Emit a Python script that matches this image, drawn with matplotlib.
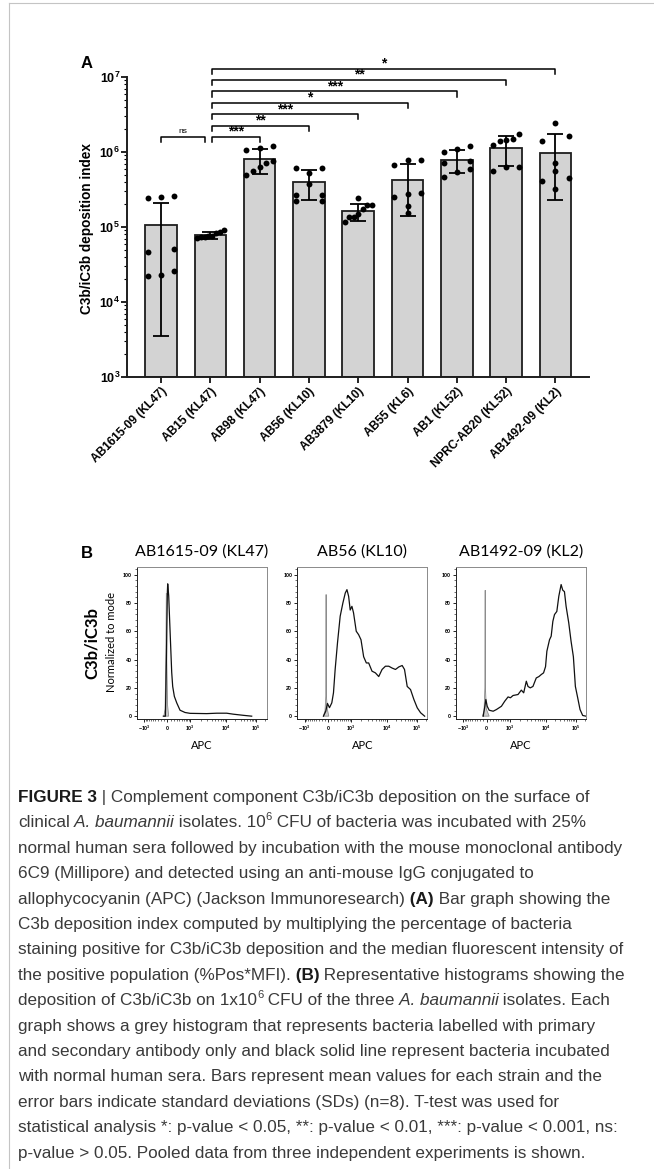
import numpy as np
import matplotlib
matplotlib.use('Agg')
import matplotlib.pyplot as plt
import matplotlib.transforms as mtransforms
from matplotlib.lines import Line2D
from matplotlib.ticker import FixedLocator, LogLocator, NullFormatter, AutoMinorLocator

plt.rcParams['font.family'] = ['Liberation Sans', 'DejaVu Sans']
plt.rcParams['mathtext.fontset'] = 'custom'
plt.rcParams['mathtext.rm'] = 'Liberation Sans'
plt.rcParams['mathtext.bf'] = 'Liberation Sans:bold'
plt.rcParams['mathtext.it'] = 'Liberation Sans:italic'

# ---------------- panel A data ----------------
strains = ['AB1615-09 (KL47)', 'AB15 (KL47)', 'AB98 (KL47)', 'AB56 (KL10)',
           'AB3879 (KL10)', 'AB55 (KL6)', 'AB1 (KL52)', 'NPRC-AB20 (KL52)',
           'AB1492-09 (KL2)']
means = [1.05e5, 7.8e4, 8.1e5, 4.0e5, 1.63e5, 4.2e5, 7.9e5, 1.13e6, 9.8e5]
sds = [1.015e5, 8.5e3, 3.0e5, 1.7e5, 4.2e4, 2.8e5, 2.7e5, 4.8e5, 7.5e5]
points = [
    [2.44e5, 2.6e5, 5.1e4, 4.7e4, 2.24e4, 2.6e4, 2.3e4, 2.5e5],
    [9.2e4, 8.6e4, 8.3e4, 7.6e4, 7.4e4, 7.3e4, 7.2e4, 7.5e4],
    [1.13e6, 1.21e6, 1.07e6, 7.1e5, 6.4e5, 7.5e5, 5.0e5, 5.5e5],
    [6.2e5, 6.2e5, 5.2e5, 3.74e5, 2.7e5, 2.7e5, 2.2e5, 2.2e5],
    [2.41e5, 1.96e5, 1.96e5, 1.74e5, 1.49e5, 1.35e5, 1.35e5, 1.15e5],
    [7.9e5, 7.9e5, 6.8e5, 2.84e5, 2.75e5, 2.54e5, 1.89e5, 1.52e5],
    [1.1e6, 1.19e6, 1.01e6, 7.66e5, 7.06e5, 5.93e5, 4.6e5, 5.36e5],
    [1.49e6, 1.45e6, 1.72e6, 1.39e6, 1.25e6, 5.5e5, 6.4e5, 6.25e5],
    [2.44e6, 1.65e6, 1.42e6, 7.06e5, 5.5e5, 4.5e5, 4.07e5, 3.2e5],
]
# significance brackets: (from, to, label)
sig_pairs = [(0, 1, 'ns'), (1, 2, '***'), (1, 3, '**'), (1, 4, '***'),
             (1, 5, '*'), (1, 6, '***'), (1, 7, '**'), (1, 8, '*')]

# ---------------- panel B data (APC value, % of mode) ----------------
hist_titles = ['AB1615-09 (KL47)', 'AB56 (KL10)', 'AB1492-09 (KL2)']

h1_x = [-124, -60, -30, 0, 10, 41, 61, 103, 135, 167, 222, 306, 435, 670, 975,
        2900, 5470, 10200, 17100, 36900, 70100]
h1_y = [0, 0, 40, 88, 93.5, 85, 73, 49, 31, 21, 14, 9.4, 4.2, 2.6, 2.0,
        1.8, 2.1, 2.1, 1.4, 0.6, 0]
h2_x = [-141, -68, -16, 46, 119, 173, 229, 313, 416, 534, 650, 742, 842, 945,
        1066, 1190, 1425, 1663, 1941, 2300, 2730, 3164, 3905, 4827, 5960, 7342,
        9063, 11460, 14820, 19200, 24860, 32170, 38530, 47400, 61230, 79300,
        102700, 132900, 181000]
h2_y = [0, 3.5, 9, 6, 9.4, 16.5, 33, 52, 70.6, 80, 87, 89.4, 84.7, 75, 77.6,
        73, 60, 57.6, 54, 42, 37.6, 37.6, 31.8, 30.6, 28, 33, 35.3, 35.3, 34,
        33, 34.8, 35.8, 33, 21, 18.8, 11.8, 5.9, 2.4, 0]
h3_x = [-107, -56, -25, 16, 77, 206, 322, 526, 693, 889, 1052, 1255, 1740, 2155,
        2505, 2960, 3290, 3800, 4495, 5535, 6550, 7560, 8750, 9900, 10950, 13420,
        15250, 17350, 19700, 23560, 27440, 32800, 37240, 42350, 48130, 58940,
        70460, 84270, 98280, 117400, 140500, 172100, 222000]
h3_y = [0, 7, 11.8, 7, 4.2, 3.5, 4.7, 7, 10.6, 13.6, 13, 14.6, 15.3, 18.4, 16.5,
        24.7, 21, 20, 21, 27, 28, 29.4, 30.6, 35, 45.9, 54, 56.5, 67, 71.8, 74,
        84.7, 93, 89, 88, 77.6, 66, 53, 42, 21, 13, 4.7, 0.5, 0]
g1_x = [-110, -70, -45, -32, -18, 5, 40]
g1_y = [0, 5, 45, 87, 40, 8, 0]
g2_x = [-141, -90, -65, -57, -50, -20, 25]
g2_y = [0, 4, 15, 86, 15, 5, 0]
g3_x = [-128, -80, -55, -45, -38, -10, 77]
g3_y = [0, 4, 20, 89, 20, 5, 0]

hist_black = [(h1_x, h1_y), (h2_x, h2_y), (h3_x, h3_y)]
hist_grey = [(g1_x, g1_y), (g2_x, g2_y), (g3_x, g3_y)]

# ---------------- figure ----------------
W, H = 654, 1169
fig = plt.figure(figsize=(W / 100, H / 100), dpi=100)


def fx(px):
    return px / W


def fy(py):
    return 1 - py / H


# page frame lines
fig.add_artist(Line2D([fx(9), fx(9)], [0, fy(3)], transform=fig.transFigure,
                      color='#c4c4c4', lw=0.8))
fig.add_artist(Line2D([fx(9), 1], [fy(3), fy(3)], transform=fig.transFigure,
                      color='#c4c4c4', lw=0.8))

# ---------------- panel A ----------------
axA = fig.add_axes([fx(127), fy(377), fx(589) - fx(127), fy(77) - fy(377)])
axA.set_yscale('log')
ymin, ymax = 1e3, 1e7
x = np.arange(len(strains))
means = np.array(means)
sds = np.array(sds)
axA.bar(x, means - ymin, bottom=ymin, width=0.64, color='#d3d3d3',
        edgecolor='#1e1e1e', linewidth=1.3, zorder=2)


def spread(vals, w=0.27, tol=0.075):
    lv = np.log10(vals)
    order = np.argsort(lv)
    offs = np.zeros(len(vals))
    groups, cur = [], [order[0]]
    for i in order[1:]:
        if lv[i] - lv[cur[-1]] < tol:
            cur.append(i)
        else:
            groups.append(cur)
            cur = [i]
    groups.append(cur)
    for g in groups:
        if len(g) > 1:
            offs[g] = np.linspace(-w, w, len(g))
    return offs


for i, vals in enumerate(points):
    offs = spread(vals)
    axA.scatter(i + offs, vals, s=18, color='black', zorder=4, linewidths=0)

axA.errorbar(x, means, yerr=[sds, sds], fmt='none', ecolor='black',
             elinewidth=1.3, capsize=6, capthick=1.3, zorder=5)

axA.set_xlim(-0.69, 8.68)
axA.set_ylim(ymin, ymax)
for s in ['top', 'right']:
    axA.spines[s].set_visible(False)
for s in ['left', 'bottom']:
    axA.spines[s].set_linewidth(1.4)
    axA.spines[s].set_color('#1e1e1e')

axA.yaxis.set_major_locator(FixedLocator([1e3, 1e4, 1e5, 1e6, 1e7]))
axA.set_yticklabels([r'$\mathbf{10^{%d}}$' % k for k in range(3, 8)])
axA.yaxis.set_minor_locator(LogLocator(base=10, subs=np.arange(2, 10)))
axA.yaxis.set_minor_formatter(NullFormatter())
axA.tick_params(axis='y', which='major', length=4, width=1.2, labelsize=9, pad=1)
axA.tick_params(axis='y', which='minor', length=2, width=0.8)
axA.set_xticks(x)
axA.set_xticklabels(strains, rotation=45, ha='right', rotation_mode='anchor',
                    fontweight='bold', fontsize=8.6)
axA.tick_params(axis='x', length=4, width=1.2, pad=2)

tr = mtransforms.blended_transform_factory(axA.transData, axA.transAxes)
level = 0
for a, b, lab in sig_pairs:
    if lab == 'ns':
        x0, x1, yl = a, b - 0.1, 0.8
    else:
        x0, x1, yl = a + 0.04, b, 0.8 + 0.038 * level
        level += 1
    axA.plot([x0, x0, x1, x1], [yl - 0.017, yl, yl, yl - 0.017], color='black',
             lw=1.1, transform=tr, clip_on=False)
    if lab == 'ns':
        axA.text((x0 + x1) / 2, yl + 0.014, lab, transform=tr, ha='center',
                 va='baseline', fontsize=6)
    else:
        axA.text((x0 + x1) / 2, yl + 0.004, lab, transform=tr, ha='center',
                 va='baseline', fontsize=10, fontweight='bold')

fig.text(fx(87), fy(228), 'C3b/iC3b deposition index', rotation=90,
         ha='center', va='center', fontsize=9.8, fontweight='bold')
fig.text(fx(81), fy(63), 'A', ha='left', va='center', fontsize=12,
         fontweight='bold')

# ---------------- panel B ----------------
U_anchor = np.arcsinh(np.array([-1660, -1000, 0, 1000, 10000, 100000, 222000]) / 478)
P_anchor = np.array([0, 0.057, 0.236, 0.413, 0.69, 0.92, 1.0])


def fwd(v):
    u = np.arcsinh(np.asarray(v, dtype=float) / 478)
    return np.interp(u, U_anchor, P_anchor)


def inv(p):
    u = np.interp(np.asarray(p, dtype=float), P_anchor, U_anchor)
    return 478 * np.sinh(u)


minor_x = ([-k * 100 for k in range(1, 10)] + [k * 100 for k in range(1, 10)]
           + [k * 1000 for k in range(2, 10)] + [k * 10000 for k in range(2, 10)]
           + [200000])
hist_lefts = [136.7, 297.3, 456]
hfont = ['Lato', 'DejaVu Sans']
for i in range(3):
    ax = fig.add_axes([fx(hist_lefts[i]), fy(719), 130 / W, fy(567) - fy(719)])
    ax.set_xscale('function', functions=(fwd, inv))
    ax.set_xlim(-1660, 222000)
    ax.set_ylim(-2, 105.4)
    gx, gy = hist_grey[i]
    ax.fill(gx, gy, facecolor='#cdcdcd', edgecolor='#8c8c8c', lw=0.6, zorder=2)
    bx, by = hist_black[i]
    ax.plot(bx, by, color='#111111', lw=0.9, zorder=3)
    ax.xaxis.set_major_locator(FixedLocator([-1000, 0, 1000, 10000, 100000]))
    ax.set_xticklabels([r'$\mathbf{-10^{3}}$', r'$\mathbf{0}$', r'$\mathbf{10^{3}}$',
                        r'$\mathbf{10^{4}}$', r'$\mathbf{10^{5}}$'])
    ax.xaxis.set_minor_locator(FixedLocator(minor_x))
    ax.set_yticks([0, 20, 40, 60, 80, 100])
    ax.yaxis.set_minor_locator(AutoMinorLocator(5))
    ax.tick_params(which='major', length=2.2, width=0.6, labelsize=3.8, pad=1.5)
    ax.tick_params(which='minor', length=1.2, width=0.4)
    for tl in ax.get_yticklabels():
        tl.set_fontweight('bold')
    for s in ['top', 'right']:
        ax.spines[s].set_color('#8a8a8a')
        ax.spines[s].set_linewidth(0.7)
    for s in ['left', 'bottom']:
        ax.spines[s].set_color('#222222')
        ax.spines[s].set_linewidth(0.7)
    ax.text(0.5, 1 + 15 / 152, hist_titles[i], transform=ax.transAxes,
            ha='center', va='center', fontsize=11.5, family=hfont)
    ax.text(0.5, -26 / 152, 'APC', transform=ax.transAxes, ha='center',
            va='center', fontsize=8, family=hfont)
    if i == 0:
        ax.text(-0.19, 0.507, 'Normalized to mode', transform=ax.transAxes,
                rotation=90, ha='center', va='center', fontsize=8, family=hfont)

fig.text(fx(92), fy(643), 'C3b/iC3b', rotation=90, ha='center', va='center',
         fontsize=12, fontweight='bold', family=hfont)
fig.text(fx(81), fy(553), 'B', ha='left', va='center', fontsize=12,
         fontweight='bold')

# ---------------- caption ----------------
caption = [
    [('FIGURE 3', 'b'), (' | Complement component C3b/iC3b deposition on the surface of', 'r')],
    [('clinical', 'r'), (' A. baumannii', 'i'), (' isolates. 10', 'r'), ('6', 's'),
     (' CFU of bacteria was incubated with 25%', 'r')],
    [('normal human sera followed by incubation with the mouse monoclonal antibody', 'r')],
    [('6C9 (Millipore) and detected using an anti-mouse IgG conjugated to', 'r')],
    [('allophycocyanin (APC) (Jackson Immunoresearch)', 'r'), (' (A)', 'b'),
     (' Bar graph showing the', 'r')],
    [('C3b deposition index computed by multiplying the percentage of bacteria', 'r')],
    [('staining positive for C3b/iC3b deposition and the median fluorescent intensity of', 'r')],
    [('the positive population (%Pos*MFI).', 'r'), (' (B)', 'b'),
     (' Representative histograms showing the', 'r')],
    [('deposition of C3b/iC3b on 1x10', 'r'), ('6', 's'), (' CFU of the three', 'r'),
     (' A. baumannii', 'i'), (' isolates. Each', 'r')],
    [('graph shows a grey histogram that represents bacteria labelled with primary', 'r')],
    [('and secondary antibody only and black solid line represent bacteria incubated', 'r')],
    [('with normal human sera. Bars represent mean values for each strain and the', 'r')],
    [('error bars indicate standard deviations (SDs) (n=8). T-test was used for', 'r')],
    [('statistical analysis *: p-value < 0.05, **: p-value < 0.01, ***: p-value < 0.001, ns:', 'r')],
    [('p-value > 0.05. Pooled data from three independent experiments is shown.', 'r')],
]
renderer = fig.canvas.get_renderer()
cap_size = 12.3
cap_color = '#3a3a3a'
for k, line in enumerate(caption):
    xp = 18
    base = 802 + 25.4 * k
    for txt, st in line:
        kw = dict(fontsize=cap_size, color=cap_color, va='baseline', ha='left')
        yb = base
        if st == 'b':
            kw['fontweight'] = 'bold'
            kw['color'] = '#1a1a1a'
        elif st == 'i':
            kw['fontstyle'] = 'italic'
        elif st == 's':
            kw['fontsize'] = cap_size * 0.65
            yb = base - 7
        t = fig.text(fx(xp), fy(yb), txt, **kw)
        bb = t.get_window_extent(renderer)
        xp += bb.width

fig.savefig('out.png', dpi=100)
